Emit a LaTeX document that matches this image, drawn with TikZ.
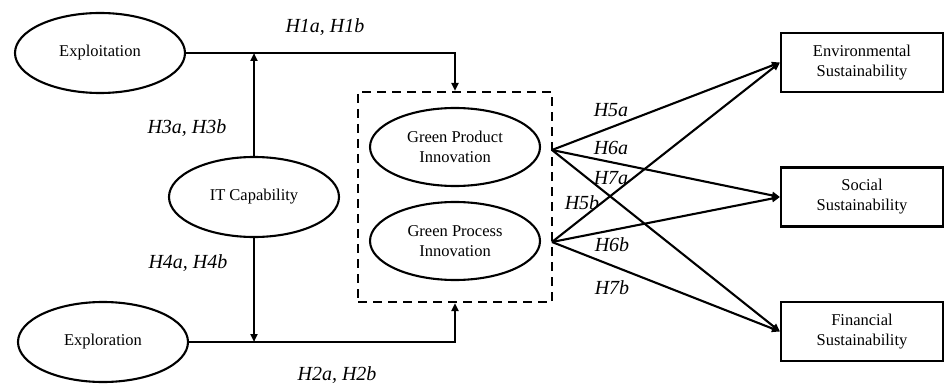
\documentclass[tikz,border=0pt]{standalone}
\usepackage{fontspec}
\setmainfont{Liberation Serif}
\usetikzlibrary{shapes.geometric,arrows.meta}
\tikzset{
  lw/.style={line width=2.1pt},
  oval/.style={ellipse, draw, lw, minimum width=170pt, minimum height=80pt, inner sep=0pt,
     font=\fontsize{16.5}{20}\selectfont, align=center},
  sbox/.style={rectangle, draw, lw, minimum width=162pt, minimum height=59pt, inner sep=0pt,
     font=\fontsize{16.5}{20}\selectfont, align=center},
  grp/.style={rectangle, draw, lw, dash pattern=on 9pt off 6pt, minimum width=194pt, minimum height=210pt, inner sep=0pt},
  hyp/.style={font=\fontsize{20}{24}\selectfont\itshape, inner sep=0pt},
  conn/.style={lw, -{Triangle[length=8pt,width=7pt]}},
}
\begin{document}
\begin{tikzpicture}[x=1pt,y=-1pt]
\useasboundingbox (0,0) rectangle (945,385);
\node[oval] (expl) at (100,53) {Exploitation};
\node[oval] (explr) at (103,342) {Exploration};
\node[oval] (it) at (254,197) {IT Capability};
\node[grp] (box) at (455,197) {};
\node[oval, minimum height=78pt] (gpi) at (455,147) {Green Product\\Innovation};
\node[oval, minimum height=78pt] (gpr) at (455,241) {Green Process\\Innovation};
\node[sbox] (env) at (862,62.5) {Environmental\\Sustainability};
\node[sbox] (soc) at (862,197) {Social\\Sustainability};
\node[sbox] (fin) at (862,331.5) {Financial\\Sustainability};
\coordinate (p1) at (552,150);
\coordinate (p2) at (552,242);
% left connectors
\draw[conn] (expl.east) -| (box.north);
\draw[conn] (explr.east) -| (box.south);
\draw[conn] (it.north) -- (it.north |- expl.east);
\draw[conn] (it.south) -- (it.south |- explr.east);
% right connectors
\draw[conn] (p1) -- (env.west);
\draw[conn] (p1) -- (soc.west);
\draw[conn] (p1) -- (fin.west);
\draw[conn] (p2) -- (env.west);
\draw[conn] (p2) -- (soc.west);
\draw[conn] (p2) -- (fin.west);
% labels
\node[hyp] (h1) at (325,27) {H1a, H1b};
\node[hyp] (h3) at (187,128) {H3a, H3b};
\node[hyp] (h4) at (188,263) {H4a, H4b};
\node[hyp] (h2) at (337,375) {H2a, H2b};
\node[hyp] (h5a) at (611,110) {H5a};
\node[hyp] (h6a) at (611,148) {H6a};
\node[hyp] (h7a) at (611,178) {H7a};
\node[hyp] (h5b) at (582,203) {H5b};
\node[hyp] (h6b) at (612,245) {H6b};
\node[hyp] (h7b) at (612,288) {H7b};
\end{tikzpicture}
\end{document}
